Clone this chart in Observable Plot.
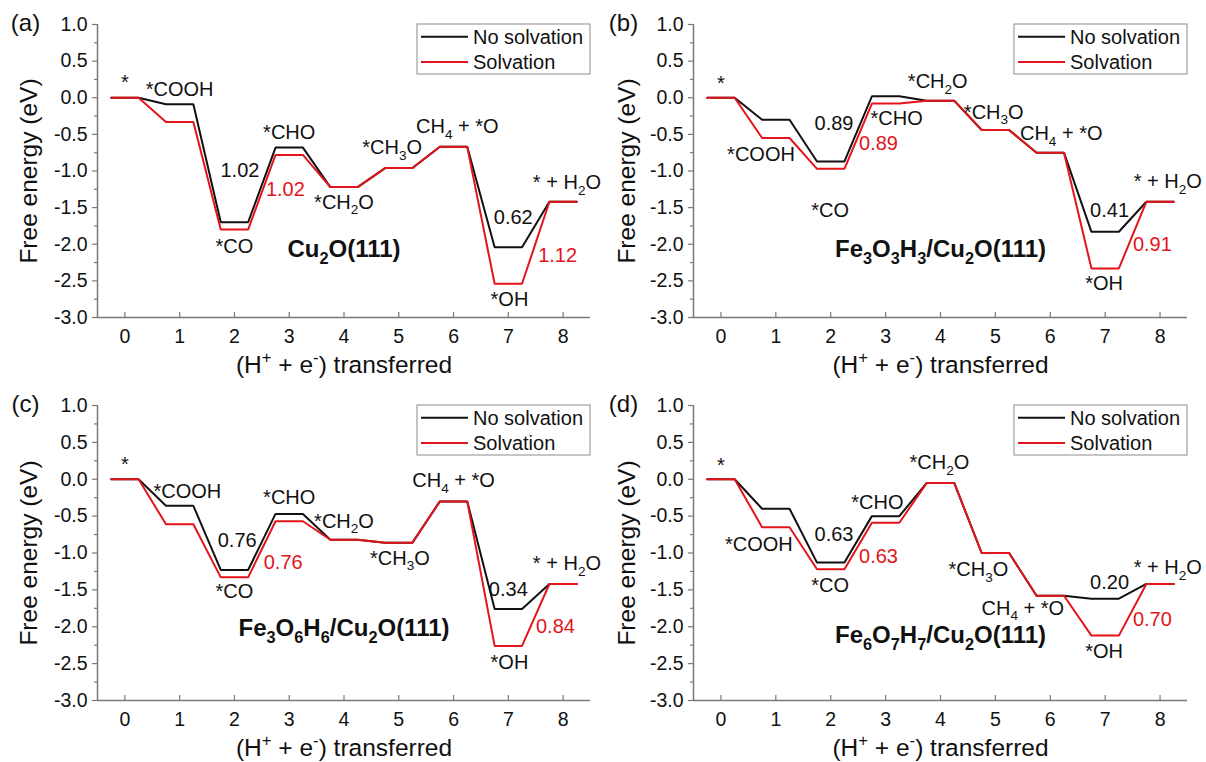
<!DOCTYPE html>
<html>
<head>
<meta charset="utf-8">
<script src="https://cdn.jsdelivr.net/npm/d3@7"></script>
<script src="https://cdn.jsdelivr.net/npm/@observablehq/plot@0.6"></script>
<style>
  html, body { margin: 0; padding: 0; background: #fff; }
  #figure { position: relative; width: 1206px; height: 762px; overflow: hidden;
            font-family: "Liberation Sans", Arial, sans-serif; }
  .panel { position: absolute; width: 603px; height: 381px; }
</style>
</head>
<body>
<div id="figure"></div>
<script>
// Reaction coordinate: number of (H+ + e-) pairs transferred
const steps = [0, 1, 2, 3, 4, 5, 6, 7, 8];
const yTicks = [1, 0.5, 0, -0.5, -1, -1.5, -2, -2.5, -3];
const yMinorTicks = [0.75, 0.25, -0.25, -0.75, -1.25, -1.75, -2.25, -2.75];

const panelTags = ["(a)", "(b)", "(c)", "(d)"];
const surfaces = ["Cu_2O(111)", "Fe_3O_3H_3/Cu_2O(111)", "Fe_3O_6H_6/Cu_2O(111)", "Fe_6O_7H_7/Cu_2O(111)"];
const species = ["*", "*COOH", "*CO", "*CHO", "*CH_2O", "*CH_3O", "CH_4 + *O", "*OH", "* + H_2O"];
const seriesNames = ["No solvation", "Solvation"];

// Free energies (eV) of each intermediate, one row per surface
const noSolvation = [
  [0, -0.09, -1.70, -0.68, -1.22, -0.96, -0.67, -2.04, -1.42],
  [0, -0.30, -0.87,  0.02, -0.04, -0.44, -0.75, -1.83, -1.42],
  [0, -0.36, -1.23, -0.47, -0.82, -0.86, -0.30, -1.76, -1.42],
  [0, -0.40, -1.13, -0.50, -0.05, -1.00, -1.58, -1.62, -1.42]
];
const solvation = [
  [0, -0.33, -1.80, -0.78, -1.22, -0.96, -0.67, -2.54, -1.42],
  [0, -0.55, -0.97, -0.08, -0.04, -0.44, -0.75, -2.33, -1.42],
  [0, -0.61, -1.33, -0.57, -0.82, -0.86, -0.30, -2.26, -1.42],
  [0, -0.65, -1.22, -0.59, -0.05, -1.00, -1.58, -2.12, -1.42]
];

// Where each intermediate's name sits (x in steps, y in eV), per panel
const speciesAt = [
  [[0, 0.21], [1.0, 0.11], [2.0, -2.03], [3.0, -0.47], [4.0, -1.43], [4.88, -0.68], [6.07, -0.40], [7.02, -2.75], [8.07, -1.16]],
  [[0, 0.20], [0.73, -0.78], [1.99, -1.54], [3.2, -0.28], [3.95, 0.22], [4.97, -0.20], [6.2, -0.49], [6.98, -2.54], [8.14, -1.15]],
  [[0, 0.20], [1.14, -0.17], [2.0, -1.53], [3.0, -0.25], [4.0, -0.57], [5.02, -1.07], [6.0, -0.02], [7.02, -2.48], [8.07, -1.15]],
  [[0, 0.19], [0.69, -0.88], [1.99, -1.44], [2.85, -0.32], [3.98, 0.22], [4.69, -1.23], [5.5, -1.75], [6.98, -2.34], [8.14, -1.20]]
];
// Where the step-energy labels sit: [CO->CHO black, CO->CHO red, OH->H2O black, OH->H2O red]
const barrierAt = [
  [[2.10, -1.00], [2.93, -1.26], [7.09, -1.63], [7.90, -2.16]],
  [[2.06, -0.35], [2.87, -0.63], [7.08, -1.54], [7.86, -2.00]],
  [[2.05, -0.83], [2.89, -1.13], [7.00, -1.49], [7.86, -2.00]],
  [[2.06, -0.75], [2.87, -1.05], [7.08, -1.40], [7.86, -1.90]]
];
const titleAt = [[4, -2.07], [4, -2.07], [4, -2.02], [4, -2.12]];

const W = 603, H = 381;
const layouts = [
  {left: 0,   top: 0,   ml: 97, mr: 13, mt: 24, mb: 64, tagDx: -72, labelDx: -68},
  {left: 603, top: 0,   ml: 90, mr: 19, mt: 24, mb: 64, tagDx: -70, labelDx: -66},
  {left: 0,   top: 381, ml: 97, mr: 13, mt: 24, mb: 62, tagDx: -72, labelDx: -68},
  {left: 603, top: 381, ml: 90, mr: 19, mt: 24, mb: 62, tagDx: -70, labelDx: -66}
];

const BLACK = "#111111", RED = "#e3141b", AXIS = "#7a7a7a";
const FONT = "'Liberation Sans', Arial, sans-serif";

// Each level is a short horizontal plateau centred on its step
function plateaus(levels) {
  return levels.flatMap((v, i) => [{x: steps[i] - 0.25, y: v}, {x: steps[i] + 0.25, y: v}]);
}
const gap = (levels, a, b) => (levels[b] - levels[a]).toFixed(2);

// Turn "_2" into a subscript and "^+" into a superscript
function richText(root) {
  root.querySelectorAll("text").forEach(t => {
    const targets = t.querySelector("tspan") ? [...t.querySelectorAll("tspan")] : [t];
    targets.forEach(el => {
      const s = el.textContent;
      if (!/[_^]/.test(s)) return;
      const fs = parseFloat(getComputedStyle(el).fontSize) || 16;
      el.textContent = "";
      const parts = s.split(/([_^].)/).filter(p => p !== "");
      let shift = 0;
      for (const p of parts) {
        const ts = document.createElementNS("http://www.w3.org/2000/svg", "tspan");
        let target = 0;
        if (p[0] === "_" && p.length === 2) { target = 0.28 * fs; ts.textContent = p[1]; ts.setAttribute("font-size", 0.68 * fs); }
        else if (p[0] === "^" && p.length === 2) { target = -0.42 * fs; ts.textContent = p[1]; ts.setAttribute("font-size", 0.68 * fs); }
        else ts.textContent = p;
        if (target !== shift) ts.setAttribute("dy", target - shift);
        shift = target;
        el.appendChild(ts);
      }
    });
  });
}

function legend(svg, L) {
  const bw = 173, bh = 50;
  const right = W - L.mr, left = right - bw, top = L.mt;
  const g = d3.select(svg).append("g").attr("font-family", FONT).attr("text-anchor", "start");
  g.append("rect").attr("x", left).attr("y", top).attr("width", bw).attr("height", bh)
    .attr("fill", "white").attr("stroke", "#8c8c8c").attr("stroke-width", 1);
  [[seriesNames[0], BLACK, 12.7], [seriesNames[1], RED, 38]].forEach(([name, color, dy]) => {
    g.append("line").attr("x1", left + 4).attr("x2", left + 51)
      .attr("y1", top + dy).attr("y2", top + dy).attr("stroke", color).attr("stroke-width", 2);
    g.append("text").attr("x", left + 56).attr("y", top + dy).attr("dy", "0.35em")
      .attr("text-anchor", "start").attr("font-size", 20).attr("fill", BLACK).text(name);
  });
}

const figure = document.getElementById("figure");

surfaces.forEach((surface, p) => {
  const L = layouts[p];
  const black = noSolvation[p], red = solvation[p];
  const names = species.map((s, i) => ({text: s, x: speciesAt[p][i][0], y: speciesAt[p][i][1]}));
  const bar = barrierAt[p];
  const blackGaps = [
    {text: gap(black, 2, 3), x: bar[0][0], y: bar[0][1]},
    {text: gap(black, 7, 8), x: bar[2][0], y: bar[2][1]}
  ];
  const redGaps = [
    {text: gap(red, 2, 3), x: bar[1][0], y: bar[1][1]},
    {text: gap(red, 7, 8), x: bar[3][0], y: bar[3][1]}
  ];

  const chart = Plot.plot({
    width: W, height: H,
    marginLeft: L.ml, marginRight: L.mr, marginTop: L.mt, marginBottom: L.mb,
    style: {fontFamily: FONT, fontSize: "19px", color: BLACK, background: "white", overflow: "visible"},
    x: {domain: [-0.5, 8.5], label: null},
    y: {domain: [-3, 1], label: null},
    marks: [
      // axis ticks: y outward, x inward
      Plot.ruleY(yMinorTicks, {x1: -0.5, x2: -0.5, insetLeft: -3, stroke: AXIS, strokeWidth: 1.2}),
      Plot.ruleY(yTicks, {x1: -0.5, x2: -0.5, insetLeft: -5, stroke: AXIS, strokeWidth: 1.2}),
      Plot.ruleX(steps, {y1: -3, y2: -3, insetTop: -5, stroke: AXIS, strokeWidth: 1.2}),
      Plot.axisY(yTicks, {tickSize: 0, tickPadding: 10, tickFormat: d => d.toFixed(1), fontSize: 19.5, fill: BLACK, label: null}),
      Plot.axisX(steps, {tickSize: 0, tickPadding: 12, tickFormat: d => String(d), fontSize: 19.5, fill: BLACK, label: null}),
      // free-energy profiles
      Plot.line(plateaus(black), {x: "x", y: "y", stroke: BLACK, strokeWidth: 2, strokeLinejoin: "miter"}),
      Plot.line(plateaus(red), {x: "x", y: "y", stroke: RED, strokeWidth: 2, strokeLinejoin: "miter"}),
      // axis lines
      Plot.ruleX([-0.5], {stroke: AXIS, strokeWidth: 1.5}),
      Plot.ruleY([-3], {stroke: AXIS, strokeWidth: 1.5}),
      // annotations
      Plot.text(names, {x: "x", y: "y", text: "text", fontSize: 20, fill: BLACK}),
      Plot.text(blackGaps, {x: "x", y: "y", text: "text", fontSize: 20, fill: BLACK}),
      Plot.text(redGaps, {x: "x", y: "y", text: "text", fontSize: 20, fill: RED}),
      Plot.text([surface], {x: titleAt[p][0], y: titleAt[p][1], text: d => d, fontSize: 24, fontWeight: "bold", fill: BLACK}),
      Plot.text([panelTags[p]], {frameAnchor: "top-left", dx: L.tagDx, dy: -1, textAnchor: "middle", lineAnchor: "middle", text: d => d, fontSize: 24, fill: BLACK}),
      Plot.text(["Free energy (eV)"], {frameAnchor: "left", dx: L.labelDx, rotate: -90, textAnchor: "middle", lineAnchor: "middle", text: d => d, fontSize: 24.5, fill: BLACK}),
      Plot.text(["(H^+ + e^-) transferred"], {frameAnchor: "bottom", dy: 48, textAnchor: "middle", lineAnchor: "middle", text: d => d, fontSize: 24.5, fill: BLACK})
    ]
  });

  const holder = document.createElement("div");
  holder.className = "panel";
  holder.style.left = L.left + "px";
  holder.style.top = L.top + "px";
  holder.appendChild(chart);
  figure.appendChild(holder);
  legend(chart, L);
  richText(chart);
});
</script>
</body>
</html>
